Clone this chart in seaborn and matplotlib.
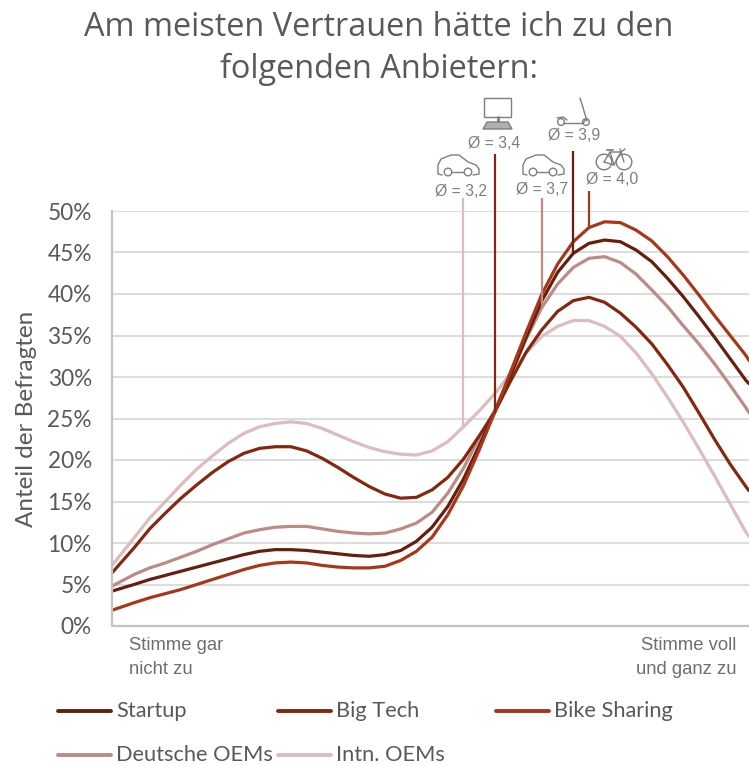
import numpy as np
import pandas as pd
import matplotlib
matplotlib.use('Agg')
import matplotlib.pyplot as plt
from matplotlib.patches import Circle, Rectangle, Polygon
import seaborn as sns

# Position on the 1-5 scale
scale = [0.96, 1.1, 1.2, 1.3, 1.4, 1.5, 1.6, 1.7, 1.8, 1.9, 2.0, 2.1, 2.2, 2.3, 2.4, 2.5, 2.6, 2.7, 2.8, 2.9, 3.0,
         3.1, 3.2, 3.3, 3.4, 3.5, 3.6, 3.7, 3.8, 3.9, 4.0, 4.1, 4.2, 4.3, 4.4, 4.5, 4.6, 4.7, 4.8, 4.9, 5.0, 5.02]

# Share of respondents in percent
startup = [4.2, 5.0, 5.6, 6.1, 6.6, 7.1, 7.6, 8.1, 8.6, 9.0, 9.2, 9.2, 9.1, 8.9, 8.7, 8.5, 8.4, 8.6, 9.1, 10.2, 11.9,
           14.4, 17.7, 21.7, 25.8, 30.2, 34.8, 39.2, 42.6, 44.9, 46.1, 46.5, 46.3, 45.3, 43.9, 41.9, 39.7, 37.3, 34.8, 32.2, 29.6, 29.2]
big_tech = [6.4, 9.4, 11.7, 13.6, 15.4, 17.0, 18.5, 19.8, 20.8, 21.4, 21.6, 21.6, 21.1, 20.2, 19.1, 17.9, 16.8, 15.9, 15.4, 15.5, 16.4,
            17.9, 20.1, 22.9, 25.8, 29.5, 33.0, 35.7, 37.9, 39.2, 39.6, 39.0, 37.7, 36.0, 34.0, 31.5, 28.8, 25.7, 22.5, 19.5, 16.8, 16.3]
bike_sharing = [1.9, 2.8, 3.4, 3.9, 4.4, 5.0, 5.6, 6.2, 6.8, 7.3, 7.6, 7.7, 7.6, 7.3, 7.1, 7.0, 7.0, 7.2, 7.9, 9.0, 10.7,
                13.4, 16.9, 21.2, 25.8, 30.6, 35.4, 40.0, 43.6, 46.3, 48.0, 48.7, 48.6, 47.7, 46.4, 44.5, 42.3, 39.9, 37.4, 35.0, 32.6, 32.0]
deutsche_oems = [4.8, 6.2, 7.0, 7.6, 8.3, 9.0, 9.8, 10.5, 11.2, 11.6, 11.9, 12.0, 12.0, 11.7, 11.4, 11.2, 11.1, 11.2, 11.7, 12.4, 13.7,
                 16.0, 19.0, 22.6, 26.0, 30.2, 34.6, 38.4, 41.2, 43.2, 44.3, 44.5, 43.8, 42.4, 40.5, 38.5, 36.2, 34.0, 31.6, 29.0, 26.3, 25.7]
intn_oems = [7.3, 10.6, 13.0, 15.0, 17.0, 18.9, 20.5, 22.0, 23.2, 24.0, 24.4, 24.6, 24.4, 23.8, 23.0, 22.2, 21.5, 21.0, 20.7, 20.6, 21.1,
             22.2, 24.0, 25.9, 28.0, 30.4, 32.9, 34.9, 36.1, 36.8, 36.8, 36.1, 34.9, 32.9, 30.4, 27.6, 24.6, 21.4, 18.1, 14.7, 11.3, 10.8]

series_names = ['Intn. OEMs', 'Deutsche OEMs', 'Big Tech', 'Startup', 'Bike Sharing']
series_values = [intn_oems, deutsche_oems, big_tech, startup, bike_sharing]
colors = {'Startup': '#661f0e', 'Big Tech': '#85260f', 'Bike Sharing': '#a8371a',
          'Deutsche OEMs': '#bd8a85', 'Intn. OEMs': '#dcbcbc'}

# Mean rating per provider and where its marker line ends on the curve
mean_names = ['Intn. OEMs', 'Big Tech', 'Deutsche OEMs', 'Startup', 'Bike Sharing']
mean_values = [3.2, 3.4, 3.7, 3.9, 4.0]
mean_ends = [24.0, 25.7, 38.2, 44.9, 48.0]
mean_tops = [51.6, 56.9, 51.6, 57.2, 52.4]

yticks = [0, 5, 10, 15, 20, 25, 30, 35, 40, 45, 50]

df = pd.DataFrame({'scale': scale * len(series_names),
                   'anteil': sum(series_values, []),
                   'anbieter': [n for n in series_names for _ in scale]})

sns.set_theme(style='white')
W, H = 749, 766
fig = plt.figure(figsize=(W / 100, H / 100), dpi=100)
ax = fig.add_axes([112 / W, (H - 626) / H, (W - 112) / W, (626 - 211) / H])

ax.set_axisbelow(True)
ax.grid(axis='y', color='#dcdcdc', linewidth=1.5)
sns.lineplot(data=df, x='scale', y='anteil', hue='anbieter', hue_order=series_names,
             palette=colors, linewidth=2.3, legend=False, errorbar=None, sort=False, ax=ax)

for name, val, end, top in zip(mean_names, mean_values, mean_ends, mean_tops):
    ax.plot([val, val], [end, top], color=colors[name], linewidth=1.6, clip_on=False,
            solid_capstyle='butt')

ax.set_xlim(0.96, 5.02)
ax.set_ylim(0, 50)
ax.set_xticks([])
ax.set_yticks(yticks)
ax.set_yticklabels([f'{t}%' for t in yticks], fontsize=16.3, color='#595959', family='Lato')
ax.tick_params(axis='y', length=0, pad=14.5)
ax.set_xlabel('')
ax.set_ylabel('')
sns.despine(ax=ax, right=True, top=True)
for side in ['left', 'bottom']:
    ax.spines[side].set_color('#c4c4c4')
    ax.spines[side].set_linewidth(1.6)

# Overlay in pixel coordinates for title, labels, legend and icons
ov = fig.add_axes([0, 0, 1, 1], zorder=5)
ov.set_xlim(0, W)
ov.set_ylim(H, 0)
ov.axis('off')
ov.patch.set_alpha(0)

ov.text(379, 27, 'Am meisten Vertrauen hätte ich zu den', ha='center', va='center',
        fontsize=23.4, color='#595959', family='Open Sans')
ov.text(379, 69, 'folgenden Anbietern:', ha='center', va='center',
        fontsize=23.4, color='#595959', family='Open Sans')
ov.text(27, 419, 'Anteil der Befragten', rotation=90, ha='center', va='center',
        fontsize=17.5, color='#595959', family='Lato')

grey = '#7f7f7f'
for x, y, s in [(494, 143, 'Ø = 3,4'), (574, 136, 'Ø = 3,9'), (461, 191, 'Ø = 3,2'),
                (542, 190, 'Ø = 3,7'), (612, 180, 'Ø = 4,0')]:
    ov.text(x, y, s, ha='center', va='center', fontsize=11.3, color=grey, family='Liberation Sans')

for x, y, s, ha in [(129, 646, 'Stimme gar', 'left'), (129, 670, 'nicht zu', 'left'),
                    (736, 646, 'Stimme voll', 'right'), (736, 670, 'und ganz zu', 'right')]:
    ov.text(x, y, s, ha=ha, va='center', fontsize=13.3, color='#6e6e6e', family='Liberation Sans')

# Legend
legend_rows = [('Startup', 58, 711), ('Big Tech', 278, 711), ('Bike Sharing', 496, 711),
               ('Deutsche OEMs', 58, 755), ('Intn. OEMs', 278, 755)]
for name, x, y in legend_rows:
    ov.plot([x, x + 53], [y, y], color=colors[name], linewidth=2.8, solid_capstyle='round')
    ov.text(x + 58, y, name, ha='left', va='center', fontsize=15.7, color='#595959', family='Lato')


def car(dx):
    pts = [(442, 175), (438, 174), (438, 165), (441, 159), (451, 155), (459, 155), (468, 162),
           (476, 165), (479, 169), (479, 174), (473, 175)]
    ov.plot([p[0] + dx for p in pts], [p[1] for p in pts], color=grey, lw=1)
    ov.plot([452 + dx, 464 + dx], [172, 172], color=grey, lw=1)
    for cx in [448, 468]:
        ov.add_patch(Circle((cx + dx, 172), 3.8, fill=False, ec=grey, lw=1))


car(0)
car(85)

# Computer
ov.add_patch(Rectangle((484, 98), 27, 19, fill=False, ec=grey, lw=1))
ov.plot([497.5, 497.5], [117, 121], color=grey, lw=2)
ov.add_patch(Polygon([(487, 122), (508, 122), (512, 129), (483, 129)], closed=True, fc='#b0b0b0', ec=grey, lw=1))

# Scooter
ov.plot([580, 581, 587], [98, 101, 121], color=grey, lw=1)
ov.plot([564, 572, 583, 586], [123.5, 123.5, 123.5, 119], color=grey, lw=1)
ov.plot([557, 563, 567], [118, 117, 120], color=grey, lw=1)
for cx in [561, 586]:
    ov.add_patch(Circle((cx, 122), 3.4, fill=False, ec=grey, lw=1))

# Bike
for cx in [604, 624]:
    ov.add_patch(Circle((cx, 162), 7.8, fill=False, ec=grey, lw=1))
ov.plot([604, 610, 621, 624], [162, 152, 152, 162], color=grey, lw=1)
ov.plot([604, 614, 621], [162, 165, 152], color=grey, lw=1)
ov.plot([610, 614], [152, 165], color=grey, lw=1)
ov.plot([607, 613], [149.5, 149.5], color=grey, lw=1.3)
ov.plot([620, 621, 625], [149, 152, 149], color=grey, lw=1)

fig.savefig('out.png', dpi=100)
